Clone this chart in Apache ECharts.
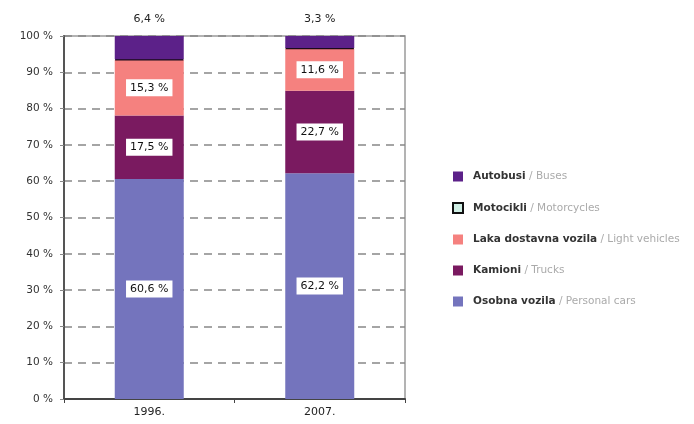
<!DOCTYPE html>
<html>
<head>
<meta charset="utf-8">
<script src="https://cdn.jsdelivr.net/npm/echarts@6/dist/echarts.min.js"></script>
<style>html,body{margin:0;padding:0;background:#fff}#c{width:694px;height:424px}</style>
</head>
<body>
<div id="c"></div>
<script>
var categories = ['1996.', '2007.'];
var yTicks = [0, 10, 20, 30, 40, 50, 60, 70, 80, 90, 100];
var carsVals = [60.6, 62.2];
var trucksVals = [17.5, 22.7];
var lightVals = [15.3, 11.6];
var motoVals = [0.2, 0.2];
var busesVals = [6.4, 3.3];
var seriesNamesHr = ['Osobna vozila', 'Kamioni', 'Laka dostavna vozila', 'Motocikli', 'Autobusi'];
var seriesNamesEn = ['Personal cars', 'Trucks', 'Light vehicles', 'Motorcycles', 'Buses'];

function fmt(v) { return String(v).replace('.', ',') + ' %'; }

var chart = echarts.init(document.getElementById('c'));
var font = 'DejaVu Sans, Verdana, sans-serif';
var insideLabel = {
  show: true, position: 'inside', formatter: function (p) { return fmt(p.value); },
  backgroundColor: '#fff', color: '#111', fontSize: 11, fontFamily: font, padding: [3, 4, 3, 4]
};
var colors = ['#7474bd', '#7a1a60', '#f5817f', '#1a0a1a', '#5c2189'];
var datas = [carsVals, trucksVals, lightVals, motoVals, busesVals];
var series = datas.map(function (d, i) {
  var s = {
    type: 'bar', stack: 'total', name: seriesNamesHr[i], data: d, barWidth: 69,
    itemStyle: { color: colors[i] }, emphasis: { disabled: true }
  };
  if (i === 3) s.itemStyle = { color: colors[i], borderColor: '#1a0a1a', borderWidth: 1.6 };
  if (i < 3) s.label = insideLabel;
  if (i === 4) s.label = { show: true, position: 'top', distance: 11, formatter: function (p) { return fmt(p.value); },
    color: '#222', fontSize: 11, fontFamily: font };
  return s;
});

var legendData = [4, 3, 2, 1, 0].map(function (i) {
  var o = { name: seriesNamesHr[i] };
  if (i === 3) o.itemStyle = { color: '#cfeee4', borderColor: '#111', borderWidth: 2 };
  return o;
});

chart.setOption({
  animation: false,
  textStyle: { fontFamily: font },
  grid: { left: 64, right: 289, top: 36, bottom: 25, show: true, borderColor: '#9a9a9a', borderWidth: 1.5 },
  legend: {
    orient: 'vertical', left: 447, top: 166, itemWidth: 10, itemHeight: 10, itemGap: 20, icon: 'rect',
    data: legendData,
    formatter: function (name) {
      var i = seriesNamesHr.indexOf(name);
      return '{a|' + name + '}{b| / ' + seriesNamesEn[i] + '}';
    },
    textStyle: { rich: {
      a: { fontSize: 10.5, color: '#333', fontFamily: font, fontWeight: 'bold', padding: [0, 0, 0, 5] },
      b: { fontSize: 10.5, color: '#aaa', fontFamily: font }
    } }
  },
  xAxis: {
    type: 'category', data: categories,
    axisLine: { lineStyle: { color: '#444', width: 2 } },
    axisTick: { show: true, length: 4, lineStyle: { color: '#444' } },
    axisLabel: { color: '#222', fontSize: 11, margin: 8, fontFamily: font }
  },
  yAxis: {
    type: 'value', min: yTicks[0], max: yTicks[yTicks.length - 1], interval: 10,
    axisLine: { show: true, lineStyle: { color: '#555', width: 2 } },
    axisTick: { show: true, length: 4, lineStyle: { color: '#888' } },
    axisLabel: { color: '#333', fontSize: 10.5, margin: 11, formatter: function (v) { return v + ' %'; } },
    splitLine: { show: true, lineStyle: { type: [8, 6], color: '#888', width: 1.5 } }
  },
  series: series
});
</script>
</body>
</html>
